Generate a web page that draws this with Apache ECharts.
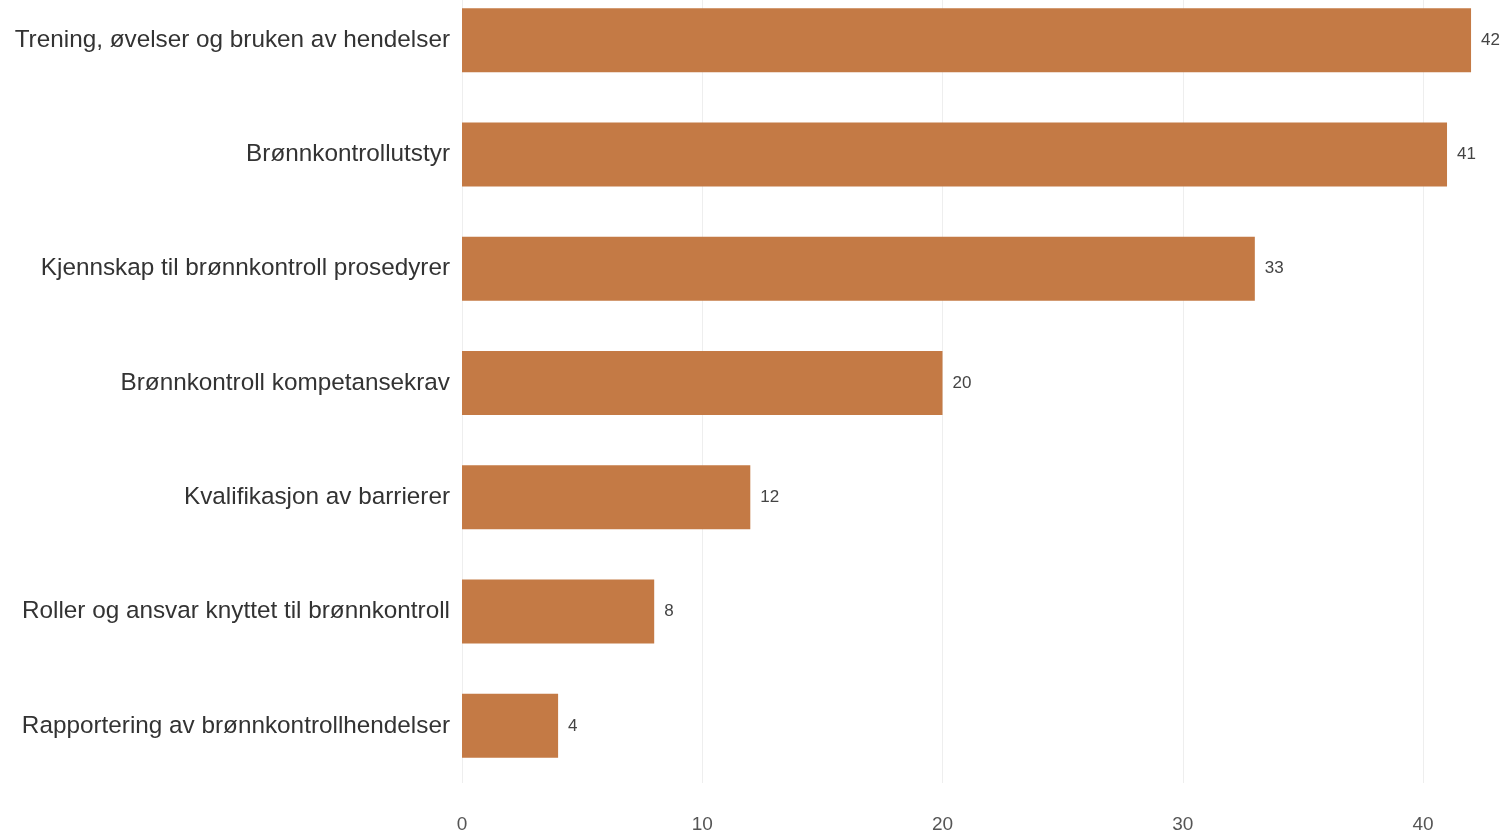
<!DOCTYPE html>
<html>
<head>
<meta charset="utf-8">
<script src="https://cdn.jsdelivr.net/npm/echarts@6/dist/echarts.min.js"></script>
<style>
html,body{margin:0;padding:0;background:#fff;overflow:hidden;}
#chart{width:1506px;height:854px;margin-top:-17px;}
</style>
</head>
<body>
<div id="chart"></div>
<script>
const categories = [
  "Trening, øvelser og bruken av hendelser",
  "Brønnkontrollutstyr",
  "Kjennskap til brønnkontroll prosedyrer",
  "Brønnkontroll kompetansekrav",
  "Kvalifikasjon av barrierer",
  "Roller og ansvar knyttet til brønnkontroll",
  "Rapportering av brønnkontrollhendelser"
];
const values = [42, 41, 33, 20, 12, 8, 4];

const chart = echarts.init(document.getElementById('chart'));
chart.setOption({
  animation: false,
  backgroundColor: '#ffffff',
  grid: { left: 462, top: 0, width: 961, height: 800, containLabel: false },
  xAxis: {
    type: 'value', min: 0, max: 40, interval: 10,
    axisLine: { show: false }, axisTick: { show: false },
    splitLine: { show: true, lineStyle: { color: '#eeeeee', width: 1 } },
    axisLabel: { margin: 32, color: '#555', fontSize: 19, fontFamily: 'Liberation Sans, Arial, sans-serif' }
  },
  yAxis: {
    type: 'category', data: categories, inverse: true,
    axisLine: { show: false }, axisTick: { show: false },
    axisLabel: { margin: 12, color: '#333', fontSize: 24.3, fontFamily: 'Liberation Sans, Arial, sans-serif' }
  },
  series: [{
    type: 'bar', data: values, barWidth: 64, clip: false,
    itemStyle: { color: '#c47a45' },
    label: { show: true, position: 'right', distance: 10, color: '#444', fontSize: 17,
      fontFamily: 'Liberation Sans, Arial, sans-serif' }
  }]
});
</script>
</body>
</html>
